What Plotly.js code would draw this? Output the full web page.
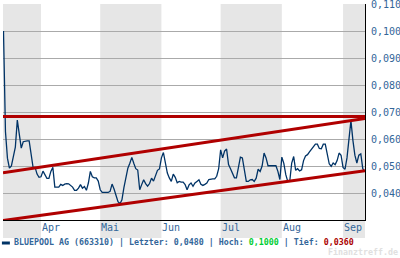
<!DOCTYPE html>
<html><head><meta charset="utf-8">
<script src="https://cdn.plot.ly/plotly-3.0.1.min.js"></script>
<style>html,body{margin:0;padding:0;background:#fff;}#chart{width:400px;height:258px;}</style>
</head><body><div id="chart"></div>
<script>
// Daily closing values (2007)
const year = 2007;
const marStartDay = 13;
const marValues = [0.1000,0.0627,0.0529,0.0492,0.0500,0.0530,0.0570,0.0670,0.0625,0.0566,0.0590,0.0593,0.0593,0.0593,0.0545,0.0494,0.0495,0.0470,0.0458];
const aprValues = [0.0460,0.0481,0.0468,0.0454,0.0454,0.0480,0.0495,0.0422,0.0422,0.0422,0.0432,0.0428,0.0433,0.0435,0.0434,0.0428,0.0422,0.0410,0.0410,0.0418,0.0431,0.0418,0.0424,0.0410,0.0437,0.0480,0.0460,0.0456,0.0456,0.0444];
const mayValues = [0.0412,0.0402,0.0402,0.0402,0.0402,0.0406,0.0433,0.0415,0.0395,0.0368,0.0360,0.0375,0.0420,0.0462,0.0492,0.0510,0.0532,0.0510,0.0490,0.0485,0.0412,0.0431,0.0449,0.0435,0.0425,0.0435,0.0455,0.0444,0.0468,0.0484,0.0489];
const junValues = [0.0530,0.0550,0.0505,0.0474,0.0456,0.0443,0.0470,0.0458,0.0438,0.0443,0.0440,0.0440,0.0431,0.0412,0.0430,0.0437,0.0425,0.0437,0.0443,0.0449,0.0432,0.0428,0.0432,0.0437,0.0450,0.0452,0.0452,0.0452,0.0462,0.0490];
const julValues = [0.0560,0.0530,0.0555,0.0563,0.0505,0.0490,0.0470,0.0456,0.0456,0.0492,0.0533,0.0530,0.0490,0.0443,0.0443,0.0449,0.0450,0.0443,0.0455,0.0488,0.0480,0.0500,0.0548,0.0530,0.0501,0.0501,0.0501,0.0501,0.0501,0.0480,0.0450];
const augValues = [0.0533,0.0510,0.0468,0.0443,0.0443,0.0511,0.0535,0.0484,0.0490,0.0482,0.0486,0.0520,0.0537,0.0542,0.0552,0.0562,0.0573,0.0581,0.0581,0.0565,0.0564,0.0581,0.0581,0.0545,0.0508,0.0499,0.0511,0.0505,0.0520,0.0548,0.0540];
const sepValues = [0.0495,0.0488,0.0530,0.0600,0.0668,0.0595,0.0540,0.0511,0.0540,0.0545,0.0490,0.0480];

// Channel / resistance lines (start and end values)
const lineDates = ['2007-03-12 18:00','2007-09-12 03:00'];
const resistance = [0.0683, 0.0683];
const upperChannel = [0.0475, 0.0676];
const lowerChannel = [0.0298, 0.0482];

// Month labels
const monthStarts = ['2007-04-01','2007-05-01','2007-06-01','2007-07-01','2007-08-01','2007-09-01'];
const monthLabels = ['Apr','Mai','Jun','Jul','Aug','Sep'];
const shadedFrom = ['2007-03-01','2007-05-01','2007-07-01','2007-09-01'];
const shadedTo   = ['2007-04-01','2007-06-01','2007-08-01','2007-10-01'];
const tickVals = [0.04,0.05,0.06,0.07,0.08,0.09,0.10,0.11];

const legendName = 'BLUEPOOL AG (663310)';
const lastVal = '0,0480', highVal = '0,1000', lowVal = '0,0360';
const watermark = 'Finanztreff.de';

function pad(n){return (n<10?'0':'')+n;}
const dates = [], values = [];
[[3,marValues,marStartDay],[4,aprValues,1],[5,mayValues,1],[6,junValues,1],[7,julValues,1],[8,augValues,1],[9,sepValues,1]].forEach(([m,arr,d0])=>{
  arr.forEach((v,i)=>{dates.push(year+'-'+pad(m)+'-'+pad(d0+i)); values.push(v);});
});

const mono = 'DejaVu Sans Mono, monospace';
const blue = '#336699';

const traces = [
  {x:dates, y:values, type:'scatter', mode:'lines', line:{color:'#003366', width:1.3}, hoverinfo:'skip'},
  {x:lineDates, y:resistance, type:'scatter', mode:'lines', line:{color:'#b00000', width:3}, hoverinfo:'skip'},
  {x:lineDates, y:upperChannel, type:'scatter', mode:'lines', line:{color:'#b00000', width:3}, hoverinfo:'skip'},
  {x:lineDates, y:lowerChannel, type:'scatter', mode:'lines', line:{color:'#b00000', width:3}, hoverinfo:'skip'}
];

const shapes = shadedFrom.map((f,i)=>({type:'rect', xref:'x', yref:'paper', x0:f, x1:shadedTo[i], y0:-0.083, y1:1, fillcolor:'#e6e6e6', line:{width:0}, layer:'below'}));
shapes.push({type:'line', xref:'paper', yref:'paper', x0:-0.003, x1:0.019, y0:-0.1065, y1:-0.1065, line:{color:'#003366', width:3}});

const annotations = monthStarts.map((d,i)=>({x:d, xref:'x', y:-0.037, yref:'paper', text:monthLabels[i], showarrow:false, xanchor:'left', yanchor:'middle', font:{family:mono, size:10, color:blue}, borderpad:0}));
annotations.push({x:0.028, xref:'paper', y:-0.104, yref:'paper', xanchor:'left', yanchor:'middle', showarrow:false, borderpad:0,
  text:'<b>'+legendName+' | Letzter: '+lastVal+' | Hoch: <span style="color:#00cc33">'+highVal+'</span> | Tief: <span style="color:#aa0000">'+lowVal+'</span></b>',
  font:{family:mono, size:8.3, color:blue}});
annotations.push({x:1.094, xref:'paper', y:-0.150, yref:'paper', xanchor:'right', yanchor:'middle', showarrow:false, borderpad:0,
  text:'<b>'+watermark+'</b>', font:{family:mono, size:8.3, color:'#e0e0e0'}});

const layout = {
  width:400, height:258,
  margin:{l:3, r:35, t:4, b:38, pad:0},
  paper_bgcolor:'#ffffff', plot_bgcolor:'#ffffff',
  showlegend:false,
  separators:',.',
  xaxis:{type:'date', range:lineDates, showgrid:false, showticklabels:false, ticks:'', zeroline:false, showline:true, linecolor:'#000', linewidth:1},
  yaxis:{side:'right', range:[0.03,0.11], tickvals:tickVals, tickformat:'.3f', showgrid:true, gridcolor:'#aaaaaa', gridwidth:1, zeroline:false, showline:true, linecolor:'#000', linewidth:1, ticks:'', ticklabelstandoff:3, ticklabeloverflow:'allow', tickfont:{family:mono, size:10, color:blue}},
  shapes:shapes, annotations:annotations
};
Plotly.newPlot('chart', traces, layout, {staticPlot:true, displayModeBar:false});
</script></body></html>
